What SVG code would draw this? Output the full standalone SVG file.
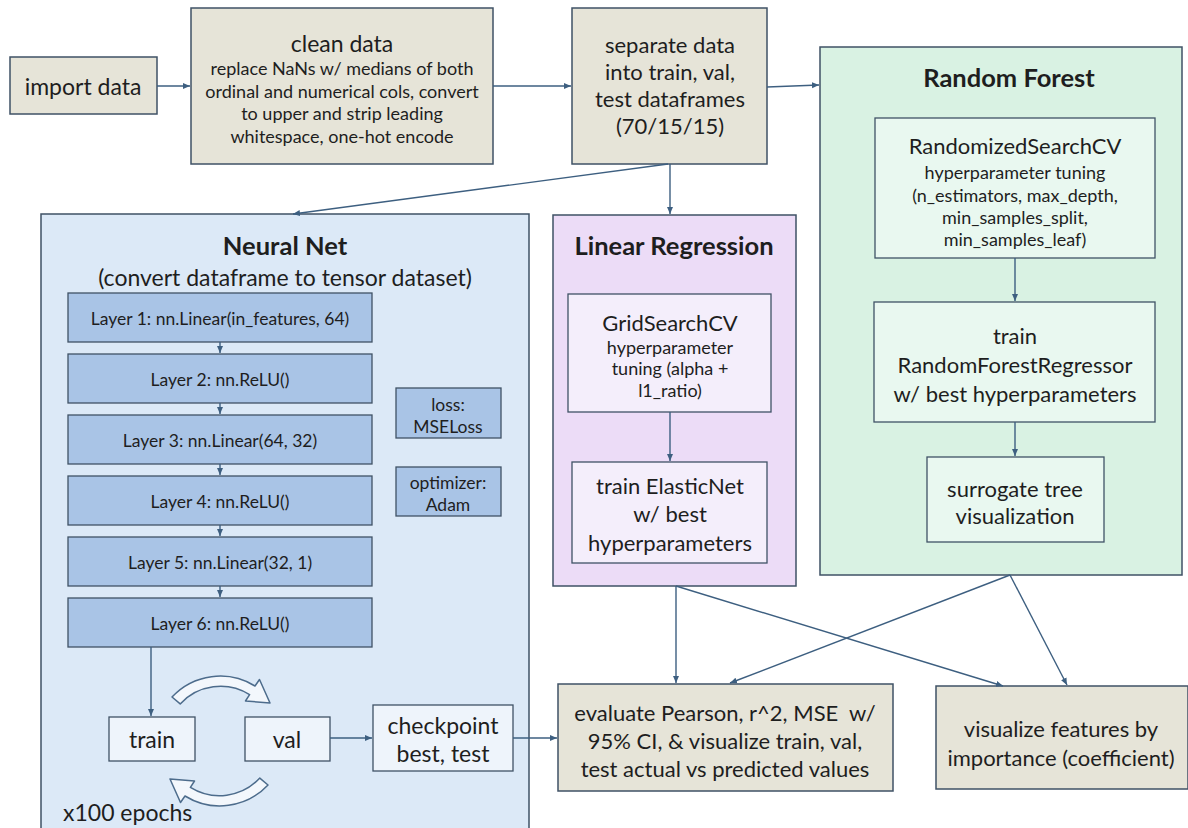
<svg xmlns="http://www.w3.org/2000/svg" width="1188" height="828" viewBox="0 0 1188 828">
  <style>
    text { font-family: Lato, "Liberation Sans", sans-serif; fill: #1e1e1e; text-anchor: middle; dominant-baseline: central; }
    .b { font-weight: bold; font-size: 25.5px; }
    .s22 { font-size: 23px; }
    .s21 { font-size: 22px; }
    .s17 { font-size: 18px; }
    .s15 { font-size: 17.5px; }
    .tan { fill: #e6e4d8; stroke: #3f5266; stroke-width: 1.5; }
    .nn { fill: #dce9f7; stroke: #3f5266; stroke-width: 1.5; }
    .layer { fill: #a9c4e6; stroke: #3f5266; stroke-width: 1.3; }
    .pale { fill: #eef4fb; stroke: #3f5266; stroke-width: 1.3; }
    .lr { fill: #ecdcf7; stroke: #3f5266; stroke-width: 1.5; }
    .lrin { fill: #f4eefb; stroke: #3f5266; stroke-width: 1.3; }
    .rf { fill: #d9f2e3; stroke: #3f5266; stroke-width: 1.5; }
    .rfin { fill: #e9f8f0; stroke: #3f5266; stroke-width: 1.3; }
    .edge { fill: none; stroke: #3d5f80; stroke-width: 1.4; marker-end: url(#arrow); }
    .loop { fill: #f3f7fc; stroke: #4d6c8c; stroke-width: 1.5; stroke-linejoin: round; }
  </style>
  <defs>
    <marker id="arrow" markerWidth="8" markerHeight="8" refX="7" refY="4" orient="auto" markerUnits="userSpaceOnUse">
      <path d="M0,1 L7,4 L0,7 Z" fill="#3d5f80"/>
    </marker>
  </defs>

  <rect width="1188" height="828" fill="#ffffff"/>

  <!-- containers -->
  <g id="neural-net">
    <rect class="nn" x="41" y="214" width="488" height="630"/>
    <text class="b" x="285" y="245">Neural Net</text>
    <text class="s22" x="285" y="277">(convert dataframe to tensor dataset)</text>
  </g>
  <g id="linear-regression">
    <rect class="lr" x="553" y="215" width="243" height="371"/>
    <text class="b" x="674" y="245">Linear Regression</text>
  </g>
  <g id="random-forest">
    <rect class="rf" x="820" y="47" width="362" height="528"/>
    <text class="b" x="1009" y="77">Random Forest</text>
  </g>

  <!-- pipeline steps -->
  <g id="import-data">
    <rect class="tan" x="10" y="57" width="147" height="57"/>
    <text class="s22" x="83" y="86">import data</text>
  </g>
  <g id="clean-data">
    <rect class="tan" x="191" y="8" width="302" height="156"/>
    <text class="s22" x="342" y="43">clean data</text>
    <text class="s17" x="342" y="68">replace NaNs w/ medians of both</text>
    <text class="s17" x="342" y="91">ordinal and numerical cols, convert</text>
    <text class="s17" x="342" y="113">to upper and strip leading</text>
    <text class="s17" x="342" y="136">whitespace, one-hot encode</text>
  </g>
  <g id="separate-data">
    <rect class="tan" x="572" y="8" width="195" height="156"/>
    <text class="s21" x="670" y="44">separate data</text>
    <text class="s21" x="670" y="71">into train, val,</text>
    <text class="s21" x="670" y="98">test dataframes</text>
    <text class="s21" x="670" y="125">(70/15/15)</text>
  </g>

  <!-- neural net layers -->
  <g id="layer-1"><rect class="layer" x="68" y="293" width="304" height="49"/><text class="s15" x="220" y="318">Layer 1: nn.Linear(in_features, 64)</text></g>
  <g id="layer-2"><rect class="layer" x="68" y="354" width="304" height="49"/><text class="s15" x="220" y="379">Layer 2: nn.ReLU()</text></g>
  <g id="layer-3"><rect class="layer" x="68" y="415" width="304" height="49"/><text class="s15" x="220" y="440">Layer 3: nn.Linear(64, 32)</text></g>
  <g id="layer-4"><rect class="layer" x="68" y="476" width="304" height="49"/><text class="s15" x="220" y="501">Layer 4: nn.ReLU()</text></g>
  <g id="layer-5"><rect class="layer" x="68" y="537" width="304" height="49"/><text class="s15" x="220" y="562">Layer 5: nn.Linear(32, 1)</text></g>
  <g id="layer-6"><rect class="layer" x="68" y="598" width="304" height="49"/><text class="s15" x="220" y="623">Layer 6: nn.ReLU()</text></g>
  <g id="loss"><rect class="layer" x="396" y="388" width="105" height="50"/><text class="s15" x="448" y="404">loss:</text><text class="s15" x="448" y="426">MSELoss</text></g>
  <g id="optimizer"><rect class="layer" x="396" y="467" width="105" height="49"/><text class="s15" x="448" y="482">optimizer:</text><text class="s15" x="448" y="504">Adam</text></g>

  <!-- training loop -->
  <g id="train"><rect class="pale" x="109" y="717" width="86" height="44"/><text class="s22" x="152" y="739">train</text></g>
  <g id="val"><rect class="pale" x="245" y="717" width="85" height="44"/><text class="s22" x="287" y="739">val</text></g>
  <g id="checkpoint"><rect class="pale" x="373" y="705" width="140" height="66"/><text class="s22" x="443" y="725">checkpoint</text><text class="s22" x="443" y="753">best, test</text></g>
  <g id="loop-arrows">
    <path id="loop-forward" class="loop" d="M172,697 A66,66 0 0 1 255,686 L259.5,679.5 L270,703 L245.5,701 L249.6,694.6 A55,55 0 0 0 180.2,703.9 Z"/>
    <use href="#loop-forward" transform="rotate(180 220 741)"/>
  </g>
  <g id="epochs"><text class="s22" x="63" y="812" style="text-anchor:start">x100 epochs</text></g>

  <!-- linear regression steps -->
  <g id="grid-search">
    <rect class="lrin" x="568" y="294" width="203" height="118"/>
    <text class="s21" x="670" y="322">GridSearchCV</text>
    <text class="s17" x="670" y="347">hyperparameter</text>
    <text class="s17" x="670" y="368">tuning (alpha +</text>
    <text class="s17" x="670" y="390">l1_ratio)</text>
  </g>
  <g id="elastic-net">
    <rect class="lrin" x="572" y="462" width="195" height="101"/>
    <text class="s21" x="670" y="485">train ElasticNet</text>
    <text class="s21" x="670" y="513">w/ best</text>
    <text class="s21" x="670" y="542">hyperparameters</text>
  </g>

  <!-- random forest steps -->
  <g id="randomized-search">
    <rect class="rfin" x="875" y="118" width="280" height="140"/>
    <text class="s21" x="1015" y="145">RandomizedSearchCV</text>
    <text class="s17" x="1015" y="172">hyperparameter tuning</text>
    <text class="s17" x="1015" y="195">(n_estimators, max_depth,</text>
    <text class="s17" x="1015" y="217">min_samples_split,</text>
    <text class="s17" x="1015" y="239">min_samples_leaf)</text>
  </g>
  <g id="rf-train">
    <rect class="rfin" x="874" y="302" width="281" height="120"/>
    <text class="s21" x="1015" y="335">train</text>
    <text class="s21" x="1015" y="364">RandomForestRegressor</text>
    <text class="s21" x="1015" y="393">w/ best hyperparameters</text>
  </g>
  <g id="surrogate-tree">
    <rect class="rfin" x="927" y="457" width="177" height="85"/>
    <text class="s21" x="1015" y="488">surrogate tree</text>
    <text class="s21" x="1015" y="515">visualization</text>
  </g>

  <!-- outputs -->
  <g id="evaluate">
    <rect class="tan" x="558" y="684" width="335" height="107"/>
    <text class="s21" x="725" y="712" xml:space="preserve">evaluate Pearson, r^2, MSE  w/</text>
    <text class="s21" x="725" y="740">95% CI, &amp; visualize train, val,</text>
    <text class="s21" x="725" y="768">test actual vs predicted values</text>
  </g>
  <g id="feature-importance">
    <rect class="tan" x="936" y="686" width="252" height="103"/>
    <text class="s21" x="1061" y="728">visualize features by</text>
    <text class="s21" x="1061" y="757">importance (coefficient)</text>
  </g>

  <!-- connectors -->
  <g id="connectors">
    <line class="edge" x1="157" y1="86" x2="190" y2="86"/>
    <line class="edge" x1="493" y1="86" x2="571" y2="86"/>
    <line class="edge" x1="767" y1="87" x2="819" y2="85"/>
    <line class="edge" x1="668" y1="164" x2="293" y2="214"/>
    <line class="edge" x1="670" y1="164" x2="670" y2="214"/>
    <line class="edge" x1="220" y1="342" x2="220" y2="353"/>
    <line class="edge" x1="220" y1="403" x2="220" y2="414"/>
    <line class="edge" x1="220" y1="464" x2="220" y2="475"/>
    <line class="edge" x1="220" y1="525" x2="220" y2="536"/>
    <line class="edge" x1="220" y1="586" x2="220" y2="597"/>
    <line class="edge" x1="151" y1="647" x2="151" y2="716"/>
    <line class="edge" x1="330" y1="738" x2="372" y2="738"/>
    <line class="edge" x1="513" y1="738" x2="557" y2="738"/>
    <line class="edge" x1="670" y1="412" x2="670" y2="461"/>
    <line class="edge" x1="1015" y1="258" x2="1015" y2="301"/>
    <line class="edge" x1="1015" y1="422" x2="1015" y2="456"/>
    <line class="edge" x1="676" y1="586" x2="676" y2="683"/>
    <line class="edge" x1="676" y1="586" x2="1003" y2="686"/>
    <line class="edge" x1="1010" y1="575" x2="730" y2="683"/>
    <line class="edge" x1="1010" y1="575" x2="1067" y2="685"/>
  </g>
</svg>
